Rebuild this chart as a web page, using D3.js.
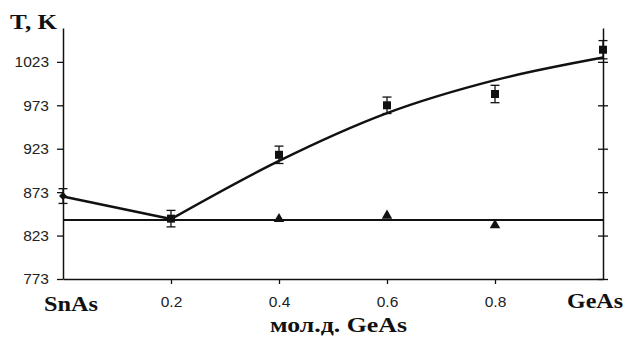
<!DOCTYPE html>
<html>
<head>
<meta charset="utf-8">
<script src="https://cdn.jsdelivr.net/npm/d3@7"></script>
<style>
  body { margin: 0; background: #fff; }
  svg { display: block; }
  .tick text { font-family: 'Liberation Sans', Arial, sans-serif; font-size: 15.5px; fill: #222; }
  .lbl { font-family: 'Liberation Serif', 'Times New Roman', serif; font-weight: bold; fill: #111; }
</style>
</head>
<body>
<div id="chart"></div>
<script>
'use strict';

// experimental points (squares, first one is a diamond)
const expX = [0, 0.2, 0.4, 0.6, 0.8, 1.0];
const expT = [868.5, 842.5, 916, 973, 986, 1037];
const expErr = [8.5, 9.5, 10, 9.5, 10, 10.5];

// smoothed liquidus curve
const fitX = [0, 0.2, 0.4, 0.6, 0.8, 1.0];
const fitT = [868, 842, 909, 964, 1002, 1028];

// triangles (second thermal effect)
const triX = [0.4, 0.6, 0.8];
const triT = [842, 846, 835];

// horizontal eutectic line
const eutT = 841;

const yTicks = [773, 823, 873, 923, 973, 1023];
const xTicks = [0.2, 0.4, 0.6, 0.8];

const width = 627,
  height = 338;

const svg = d3.select('#chart')
  .append('svg')
  .attr('width', width)
  .attr('height', height);

const xScale = d3.scaleLinear().domain([0, 1]).range([63, 603]);
const yScale = d3.scaleLinear().domain([773, 1062]).range([279, 28]);

// left axis
svg.append('g')
  .attr('transform', `translate(${xScale(0)},0)`)
  .call(d3.axisLeft(yScale).tickValues(yTicks).tickSize(6).tickSizeOuter(0).tickPadding(8).tickFormat(d3.format('d')))
  .call(g => g.select('.domain').attr('stroke', '#111').attr('stroke-width', 1.5))
  .call(g => g.selectAll('.tick line').attr('stroke', '#111').attr('stroke-width', 1.3));

// right axis, ticks crossing the line
svg.append('g')
  .attr('transform', `translate(${xScale(1)},0)`)
  .call(d3.axisRight(yScale).tickValues(yTicks).tickSize(5).tickSizeOuter(0).tickFormat(''))
  .call(g => g.select('.domain').attr('stroke', '#111').attr('stroke-width', 1.5))
  .call(g => g.selectAll('.tick line').attr('stroke', '#111').attr('stroke-width', 1.3))
  .call(g => g.selectAll('.tick').append('line')
    .attr('x1', -5).attr('x2', 0)
    .attr('stroke', '#111').attr('stroke-width', 1.3));

// bottom axis
svg.append('g')
  .attr('transform', `translate(0,${yScale(773)})`)
  .call(d3.axisBottom(xScale).tickValues(xTicks).tickSize(5).tickSizeOuter(0).tickPadding(12).tickFormat(d3.format('.1f')))
  .call(g => g.select('.domain').attr('stroke', '#111').attr('stroke-width', 1.5))
  .call(g => g.selectAll('.tick line').attr('stroke', '#111').attr('stroke-width', 1.3));

// eutectic line
svg.append('line')
  .attr('x1', xScale(0)).attr('x2', xScale(1))
  .attr('y1', yScale(eutT)).attr('y2', yScale(eutT))
  .attr('stroke', '#111')
  .attr('stroke-width', 2);

// fit curve: straight to the minimum, smooth afterwards
const fit = fitX.map((x, i) => [x, fitT[i]]);
const lineGen = d3.line().x(d => xScale(d[0])).y(d => yScale(d[1]));

svg.append('path')
  .attr('d', lineGen(fit.slice(0, 2)))
  .attr('fill', 'none')
  .attr('stroke', '#111')
  .attr('stroke-width', 2.5);

svg.append('path')
  .attr('d', lineGen.curve(d3.curveMonotoneX)(fit.slice(1)))
  .attr('fill', 'none')
  .attr('stroke', '#111')
  .attr('stroke-width', 2.5);

// error bars
const exp = expX.map((x, i) => ({ x, t: expT[i], e: expErr[i], i }));
const eb = svg.append('g').attr('stroke', '#111').attr('stroke-width', 1.3);
exp.forEach(d => {
  const cx = xScale(d.x), y1 = yScale(d.t + d.e), y2 = yScale(d.t - d.e);
  eb.append('line').attr('x1', cx).attr('x2', cx).attr('y1', y1).attr('y2', y2);
  eb.append('line').attr('x1', cx - 4.5).attr('x2', cx + 4.5).attr('y1', y1).attr('y2', y1);
  eb.append('line').attr('x1', cx - 4.5).attr('x2', cx + 4.5).attr('y1', y2).attr('y2', y2);
});

// markers
svg.selectAll('.pt')
  .data(exp)
  .enter()
  .append('path')
  .attr('class', 'pt')
  .attr('transform', d => `translate(${xScale(d.x)},${yScale(d.t)})`)
  .attr('d', d => d.i === 0
    ? d3.symbol(d3.symbolDiamond2, 40)()
    : d3.symbol(d3.symbolSquare, 64)())
  .attr('fill', '#111');

svg.selectAll('.tri')
  .data(triX.map((x, i) => ({ x, t: triT[i] })))
  .enter()
  .append('path')
  .attr('class', 'tri')
  .attr('transform', d => `translate(${xScale(d.x)},${yScale(d.t)})`)
  .attr('d', d3.symbol(d3.symbolTriangle, 48)())
  .attr('fill', '#111');

// labels
svg.append('text')
  .attr('class', 'lbl')
  .attr('x', 10).attr('y', 29)
  .attr('font-size', 22)
  .attr('textLength', 47).attr('lengthAdjust', 'spacingAndGlyphs')
  .text('T, K');

svg.append('text')
  .attr('class', 'lbl')
  .attr('x', 44).attr('y', 311)
  .attr('font-size', 22)
  .attr('textLength', 54).attr('lengthAdjust', 'spacingAndGlyphs')
  .text('SnAs');

svg.append('text')
  .attr('class', 'lbl')
  .attr('x', 567).attr('y', 308)
  .attr('font-size', 22)
  .attr('textLength', 56).attr('lengthAdjust', 'spacingAndGlyphs')
  .text('GeAs');

svg.append('text')
  .attr('class', 'lbl')
  .attr('x', 270).attr('y', 332)
  .attr('font-size', 21)
  .attr('textLength', 137).attr('lengthAdjust', 'spacingAndGlyphs')
  .text('мол.д. GeAs');
</script>
</body>
</html>
